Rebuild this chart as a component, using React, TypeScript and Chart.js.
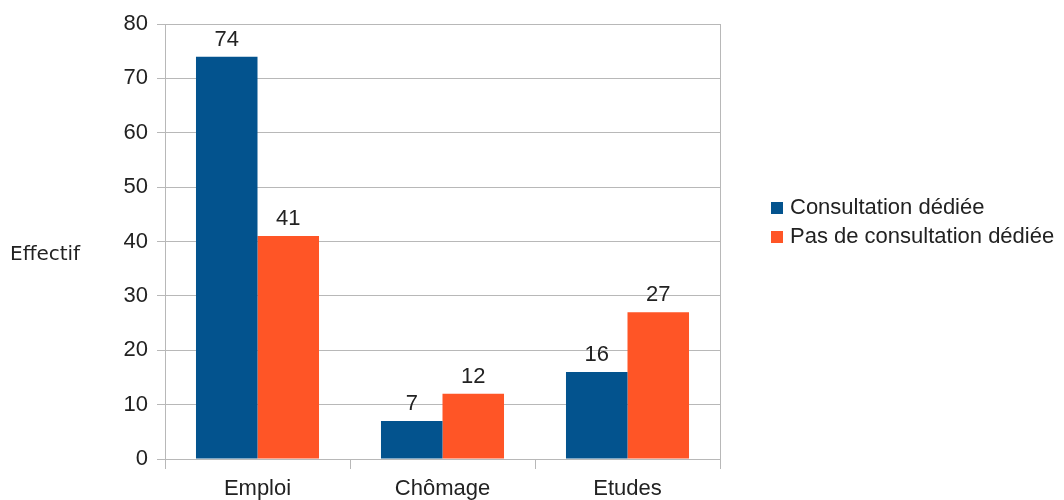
import React, { useEffect, useRef } from "react";
import { Chart, registerables } from "chart.js";

Chart.register(...registerables);

const categories = ["Emploi", "Chômage", "Etudes"];
const seriesNames = ["Consultation dédiée", "Pas de consultation dédiée"];
const consultation = [74, 7, 16];
const pasConsultation = [41, 12, 27];
const yTicks = [0, 10, 20, 30, 40, 50, 60, 70, 80];
const yTitle = "Effectif";

const BLUE = "#03538e";
const ORANGE = "#ff5526";
const GRID = "#b8b8b8";
const FONT = "'Liberation Sans', Arial, sans-serif";
const FS = 22;

const valueLabels = {
  id: "valueLabels",
  afterDatasetsDraw(chart: any) {
    const ctx = chart.ctx;
    ctx.save();
    ctx.font = `${FS}px ${FONT}`;
    ctx.fillStyle = "#222";
    ctx.textAlign = "center";
    ctx.textBaseline = "alphabetic";
    chart.data.datasets.forEach((ds: any, i: number) => {
      const meta = chart.getDatasetMeta(i);
      meta.data.forEach((el: any, j: number) => {
        ctx.fillText(String(ds.data[j]), el.x, el.y - 11);
      });
    });
    ctx.restore();
  },
};

const extras = {
  id: "extras",
  afterDraw(chart: any) {
    const ctx = chart.ctx;
    const area = chart.chartArea;
    ctx.save();
    ctx.strokeStyle = GRID;
    ctx.lineWidth = 1;
    ctx.beginPath();
    ctx.moveTo(Math.round(area.right) + 0.5, area.top);
    ctx.lineTo(Math.round(area.right) + 0.5, area.bottom);
    ctx.stroke();
    ctx.font = `20px 'DejaVu Sans', sans-serif`;
    ctx.fillStyle = "#222";
    ctx.textAlign = "left";
    ctx.textBaseline = "middle";
    ctx.fillText(yTitle, 10, 255);
    const colors = chart.data.datasets.map((d: any) => d.backgroundColor);
    ctx.font = `${FS}px ${FONT}`;
    ctx.textBaseline = "middle";
    chart.data.datasets.forEach((ds: any, i: number) => {
      const cy = 208 + i * 29;
      ctx.fillStyle = colors[i];
      ctx.fillRect(771, cy - 6, 12, 12);
      ctx.fillStyle = "#222";
      ctx.fillText(ds.label, 790, cy);
    });
    ctx.restore();
  },
};

export default function App() {
  const ref = useRef<HTMLCanvasElement>(null);
  useEffect(() => {
    if (!ref.current) return;
    const chart = new Chart(ref.current, {
      type: "bar",
      data: {
        labels: categories,
        datasets: [
          { label: seriesNames[0], data: consultation, backgroundColor: BLUE },
          { label: seriesNames[1], data: pasConsultation, backgroundColor: ORANGE },
        ],
      },
      options: {
        animation: false,
        responsive: false,
        maintainAspectRatio: false,
        layout: { padding: { top: 24, right: 344, bottom: 0, left: 0 } },
        datasets: { bar: { categoryPercentage: 0.665, barPercentage: 1 } },
        plugins: { legend: { display: false }, tooltip: { enabled: false } },
        scales: {
          x: {
            afterFit: (s: any) => {
              s.height = 41;
            },
            grid: {
              offset: true,
              drawOnChartArea: false,
              tickLength: 10,
              color: GRID,
            },
            border: { color: GRID },
            ticks: { font: { size: FS, family: FONT }, color: "#222", padding: 7 },
          },
          y: {
            min: 0,
            max: 80,
            afterFit: (s: any) => {
              s.width = 165;
            },
            afterBuildTicks: (s: any) => {
              s.ticks = yTicks.map((v) => ({ value: v }));
            },
            grid: { color: GRID, tickLength: 8 },
            border: { color: GRID },
            ticks: { font: { size: FS, family: FONT }, color: "#222", padding: 9 },
          },
        },
      },
      plugins: [valueLabels, extras],
    });
    return () => chart.destroy();
  }, []);
  return (
    <div style={{ position: "absolute", left: 0, top: 0, width: 1064, height: 500 }}>
      <canvas ref={ref} width={1064} height={500} style={{ display: "block" }} />
    </div>
  );
}
